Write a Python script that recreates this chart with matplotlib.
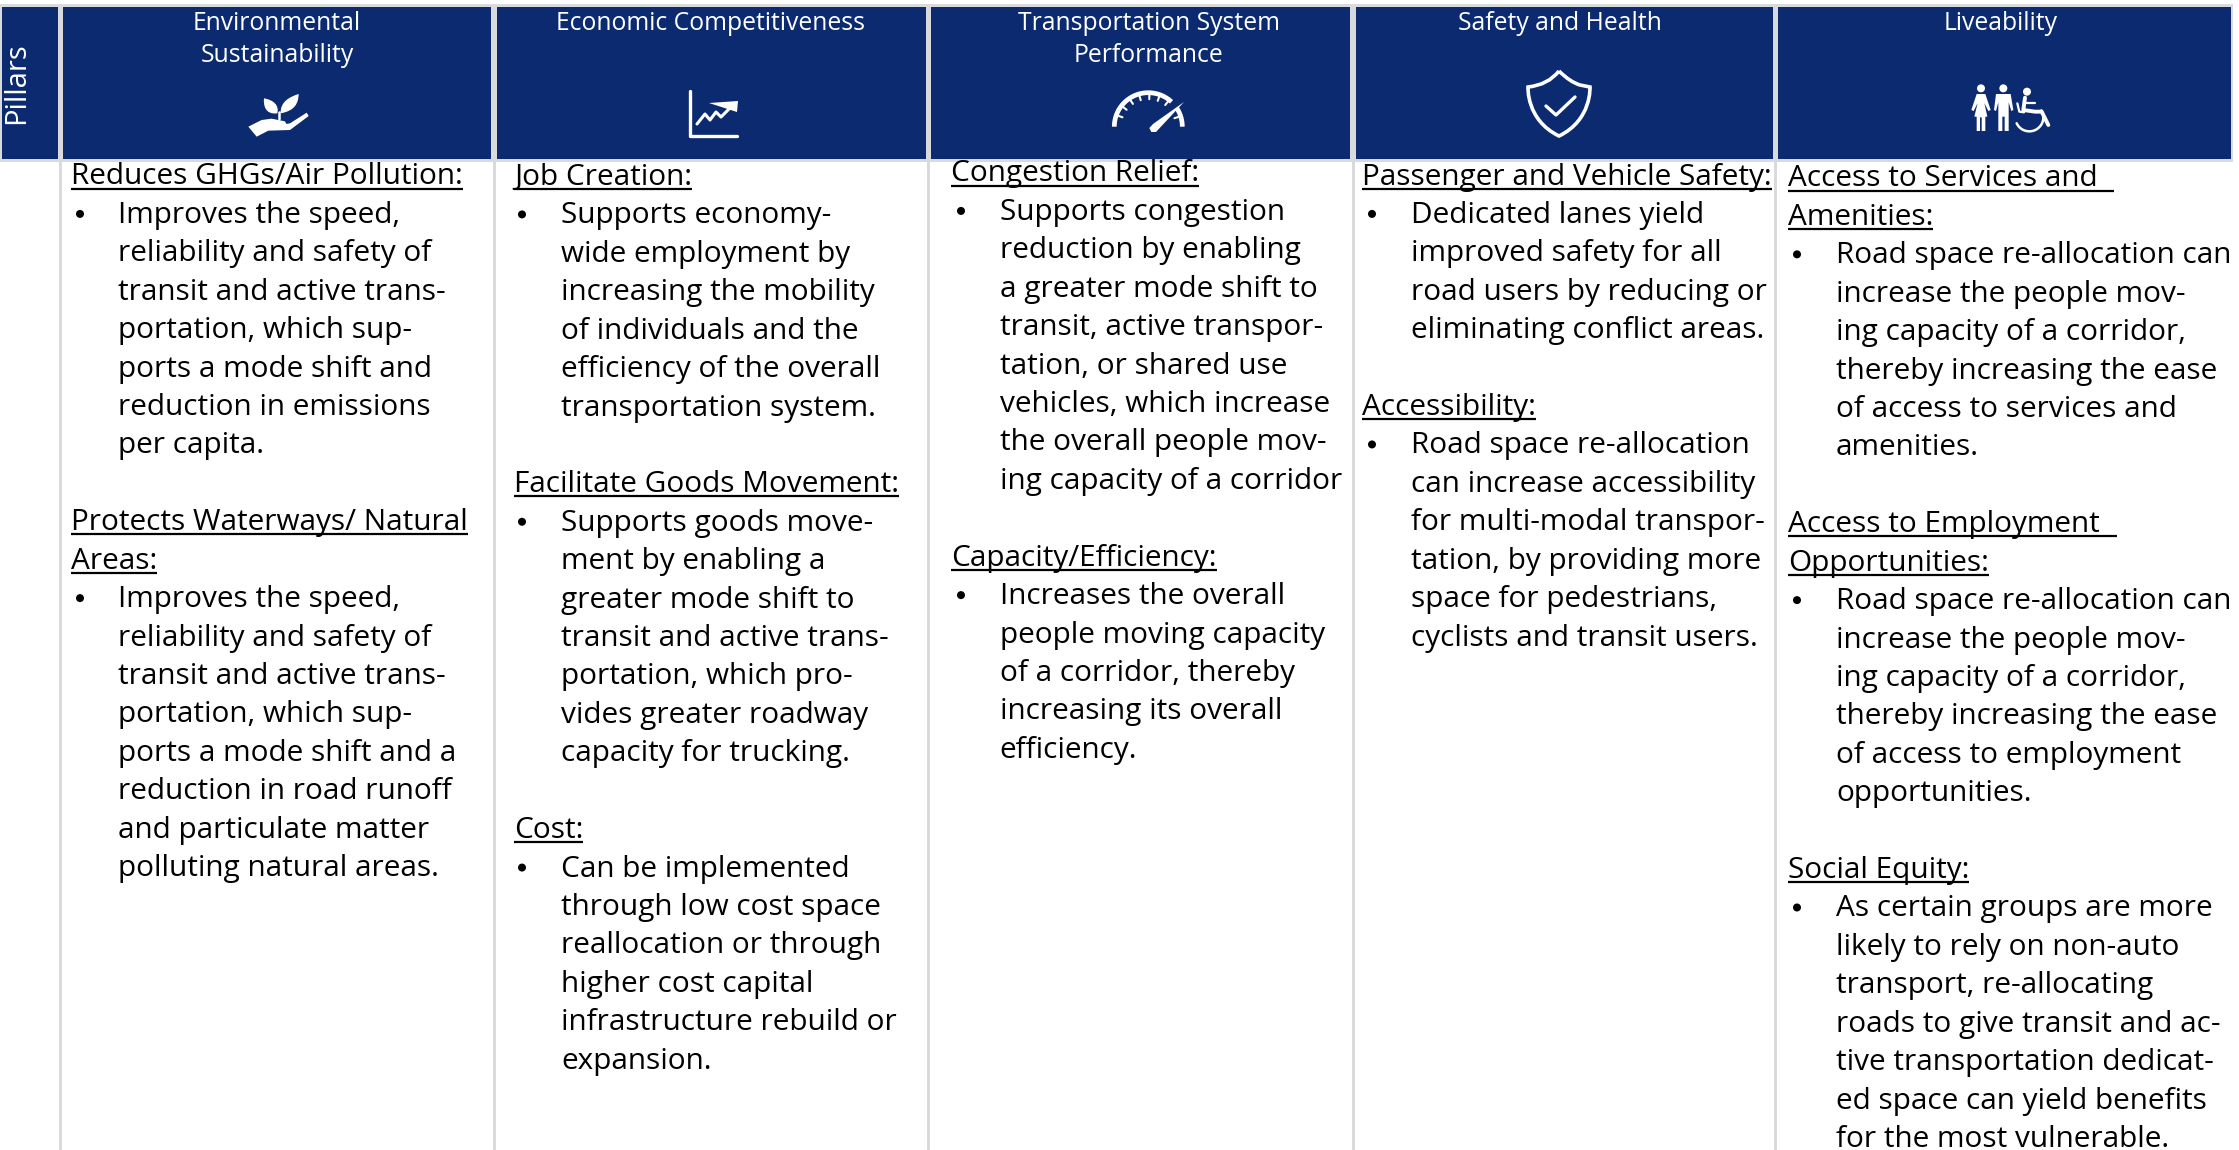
import matplotlib
matplotlib.use("Agg")
import matplotlib.pyplot as plt
from matplotlib.patches import Rectangle, Polygon, Circle, PathPatch
from matplotlib.path import Path
import numpy as np

W, H = 2239, 1150
NAVY = "#0B2A6F"
GRID = "#D8DADD"
FONT = "Open Sans"
BODY_PT = 21.4
HEAD_PT = 17.8
STEP = 38.42

pillar_label = "Pillars"
column_titles = [
    ["Environmental", "Sustainability"],
    ["Economic Competitiveness"],
    ["Transportation System", "Performance"],
    ["Safety and Health"],
    ["Liveability"],
]
# (line index, kind, text): kind h = underlined heading, b = first bullet line, t = continuation
col_env = [
    (0, "h", "Reduces GHGs/Air Pollution:"),
    (1, "b", "Improves the speed,"), (2, "t", "reliability and safety of"),
    (3, "t", "transit and active trans-"), (4, "t", "portation, which sup-"),
    (5, "t", "ports a mode shift and"), (6, "t", "reduction in emissions"),
    (7, "t", "per capita."),
    (9, "h", "Protects Waterways/ Natural"), (10, "h", "Areas:"),
    (11, "b", "Improves the speed,"), (12, "t", "reliability and safety of"),
    (13, "t", "transit and active trans-"), (14, "t", "portation, which sup-"),
    (15, "t", "ports a mode shift and a"), (16, "t", "reduction in road runoff"),
    (17, "t", "and particulate matter"), (18, "t", "polluting natural areas."),
]
col_econ = [
    (0, "h", "Job Creation:"),
    (1, "b", "Supports economy-"), (2, "t", "wide employment by"),
    (3, "t", "increasing the mobility"), (4, "t", "of individuals and the"),
    (5, "t", "efficiency of the overall"), (6, "t", "transportation system."),
    (8, "h", "Facilitate Goods Movement:"),
    (9, "b", "Supports goods move-"), (10, "t", "ment by enabling a"),
    (11, "t", "greater mode shift to"), (12, "t", "transit and active trans-"),
    (13, "t", "portation, which pro-"), (14, "t", "vides greater roadway"),
    (15, "t", "capacity for trucking."),
    (17, "h", "Cost:"),
    (18, "b", "Can be implemented"), (19, "t", "through low cost space"),
    (20, "t", "reallocation or through"), (21, "t", "higher cost capital"),
    (22, "t", "infrastructure rebuild or"), (23, "t", "expansion."),
]
col_trans = [
    (0, "h", "Congestion Relief:"),
    (1, "b", "Supports congestion"), (2, "t", "reduction by enabling"),
    (3, "t", "a greater mode shift to"), (4, "t", "transit, active transpor-"),
    (5, "t", "tation, or shared use"), (6, "t", "vehicles, which increase"),
    (7, "t", "the overall people mov-"), (8, "t", "ing capacity of a corridor"),
    (10, "h", "Capacity/Efficiency:"),
    (11, "b", "Increases the overall"), (12, "t", "people moving capacity"),
    (13, "t", "of a corridor, thereby"), (14, "t", "increasing its overall"),
    (15, "t", "efficiency."),
]
col_safety = [
    (0, "h", "Passenger and Vehicle Safety:"),
    (1, "b", "Dedicated lanes yield"), (2, "t", "improved safety for all"),
    (3, "t", "road users by reducing or"), (4, "t", "eliminating conflict areas."),
    (6, "h", "Accessibility:"),
    (7, "b", "Road space re-allocation"), (8, "t", "can increase accessibility"),
    (9, "t", "for multi-modal transpor-"), (10, "t", "tation, by providing more"),
    (11, "t", "space for pedestrians,"), (12, "t", "cyclists and transit users."),
]
col_live = [
    (0, "h", "Access to Services and "), (1, "h", "Amenities:"),
    (2, "b", "Road space re-allocation can"), (3, "t", "increase the people mov-"),
    (4, "t", "ing capacity of a corridor,"), (5, "t", "thereby increasing the ease"),
    (6, "t", "of access to services and"), (7, "t", "amenities."),
    (9, "h", "Access to Employment "), (10, "h", "Opportunities:"),
    (11, "b", "Road space re-allocation can"), (12, "t", "increase the people mov-"),
    (13, "t", "ing capacity of a corridor,"), (14, "t", "thereby increasing the ease"),
    (15, "t", "of access to employment"), (16, "t", "opportunities."),
    (18, "h", "Social Equity:"),
    (19, "b", "As certain groups are more"), (20, "t", "likely to rely on non-auto"),
    (21, "t", "transport, re-allocating"), (22, "t", "roads to give transit and ac-"),
    (23, "t", "tive transportation dedicat-"), (24, "t", "ed space can yield benefits"),
    (25, "t", "for the most vulnerable."),
]
columns = [col_env, col_econ, col_trans, col_safety, col_live]

col_left = [63, 497, 931, 1356, 1778]
col_right = [491, 926, 1350, 1773, 2231]
col_center = [277, 711, 1149, 1560, 2001]
head_x = [71, 514, 951, 1362, 1788]
bullet_x = [80, 522, 961, 1372, 1797]
text_x = [118, 561, 999.5, 1411, 1836]
first_base = [184.5, 185, 181.5, 184.5, 186.5]

fig = plt.figure(figsize=(W / 100, H / 100), dpi=100, facecolor="white")
ax = fig.add_axes([0, 0, 1, 1])
ax.set_xlim(0, W)
ax.set_ylim(H, 0)
ax.axis("off")

# frame
ax.add_patch(Rectangle((0, 4), W, 158, fc=GRID, ec="none", zorder=1))
ax.add_patch(Rectangle((W - 6, 4), 6, H, fc="white", ec="none", zorder=1))
ax.add_patch(Rectangle((2, 7), 56, 152, fc=NAVY, ec="none", zorder=2))
for l, r in zip(col_left, col_right):
    ax.add_patch(Rectangle((l, 7), r - l, 152, fc=NAVY, ec="none", zorder=2))
for l, r in zip(col_left, [58] + col_right[:-1]):
    ax.add_patch(Rectangle(((l + r) / 2 - 1.5, 160), 3, H - 160, fc=GRID, ec="none", zorder=1))

ax.text(17, 83, pillar_label, rotation=90, color="white", family=FONT, fontsize=21,
        ha="center", va="center", zorder=5)

# header titles
for title, cx in zip(column_titles, col_center):
    for i, line in enumerate(title):
        ax.text(cx, 29.5 + 32 * i, line, color="white", family=FONT, fontsize=HEAD_PT,
                ha="center", va="baseline", zorder=5)

# body text
fig.canvas.draw()
rend = fig.canvas.get_renderer()
for lines, hx, bx, tx, base in zip(columns, head_x, bullet_x, text_x, first_base):
    for idx, kind, s in lines:
        y = base + idx * STEP
        x = hx if kind == "h" else tx
        t = ax.text(x, y, s, color="black", family=FONT, fontsize=BODY_PT, ha="left",
                    va="baseline", zorder=5)
        if kind == "h":
            bb = t.get_window_extent(rend)
            ext = 9 if s.endswith(" ") else 0
            ax.plot([x, x + bb.width + ext], [y + 4, y + 4], color="black", lw=1.6,
                    solid_capstyle="butt", zorder=5)
        if kind == "b":
            ax.add_patch(Circle((bx, y - 9), 4, fc="black", ec="none", zorder=5))

WHITE = "white"


def poly(pts, ox=0, oy=0):
    """Icon polygon given in crop units of one third of a pixel."""
    xy = [(ox + a / 3, oy + b / 3) for a, b in pts]
    ax.add_patch(Polygon(xy, closed=True, fc=WHITE, ec="none", zorder=6))


def stroke(xs, ys, lw=2.5):
    ax.plot(xs, ys, color=WHITE, lw=lw, zorder=6, solid_capstyle="round", solid_joinstyle="round")


def blob(pts, ox, oy):
    xy = [(ox + a / 3, oy + b / 3) for a, b in pts]
    codes = [Path.MOVETO] + [Path.CURVE4] * (len(xy) - 1)
    ax.add_patch(PathPatch(Path(xy, codes), fc=WHITE, ec="none", zorder=6))


# plant in hand
poly([(25, 140), (65, 120), (95, 116), (135, 124), (140, 134), (112, 136), (150, 130), (200, 98),
      (206, 108), (150, 150), (85, 152), (50, 170)], 240, 80)
blob([(112, 100), (75, 105), (70, 75), (72, 55), (100, 60), (118, 75), (112, 100)], 240, 80)
blob([(122, 100), (120, 65), (150, 50), (176, 42), (175, 70), (165, 92), (122, 100)], 240, 80)
stroke([278.5, 278.5], [112, 119], lw=1.8)

# growth chart
stroke([690, 690, 737], [91, 136, 136], lw=2.4)
stroke([697, 705, 710, 716, 721, 732], [124, 114, 120, 112, 117, 106], lw=2.2)
poly([(2127, 309), (2214, 303), (2211, 336)])

# gauge
gx, gy, gr = 1148.3, 126.7, 34
for a0, a1 in [(180, 47), (33, 0)]:
    th = np.radians(np.linspace(a0, a1, 50))
    ax.plot(gx + gr * np.cos(th), gy - gr * np.sin(th), color=WHITE, lw=3.4, zorder=6,
            solid_capstyle="butt")
for a in np.radians([160, 142, 124, 106, 88, 70, 52, 18]):
    stroke([gx + 33 * np.cos(a), gx + 27.5 * np.cos(a)], [gy - 33 * np.sin(a), gy - 27.5 * np.sin(a)], lw=1.5)
poly([(3459, 372), (3448, 384), (3454, 396), (3468, 396), (3552, 306)], 0, 0)

# shield
shield = Path([(1559, 71), (1570, 82), (1580, 85), (1590, 87), (1590, 87), (1592, 120), (1559, 136),
               (1526, 120), (1528, 87), (1528, 87), (1548, 85), (1559, 71)],
              [Path.MOVETO, Path.CURVE3, Path.CURVE3, Path.LINETO, Path.CURVE4, Path.CURVE4, Path.CURVE4,
               Path.CURVE4, Path.CURVE4, Path.LINETO, Path.CURVE3, Path.CURVE3])
ax.add_patch(PathPatch(shield, fc="none", ec=WHITE, lw=2.6, zorder=6))
stroke([1546, 1556, 1575], [106, 115, 97], lw=2.4)

# people and wheelchair
px, py = 1960, 75
for a, b, r in [(63, 40, 4.0), (130, 40, 4.0), (201, 50, 4.0)]:
    ax.add_patch(Circle((px + a / 3, py + b / 3), r, fc=WHITE, ec="none", zorder=6))
poly([(50, 57), (76, 57), (92, 105), (85, 108), (73, 84), (82, 125), (76, 125), (76, 168), (65, 168),
      (65, 127), (60, 127), (60, 168), (50, 168), (50, 125), (43, 125), (53, 84), (41, 108), (34, 105)], px, py)
poly([(108, 57), (152, 57), (160, 105), (154, 108), (146, 82), (146, 168), (134, 168), (134, 125),
      (127, 125), (127, 168), (115, 168), (115, 82), (108, 108), (102, 105)], px, py)
vx = np.array([195, 190, 225, 245, 265])
vy = np.array([68, 105, 110, 110, 150])
stroke(px + vx / 3, py + vy / 3, lw=2.8)
stroke([px + 192 / 3, px + 226 / 3], [py + 85 / 3, py + 85 / 3], lw=1.6)
stroke([px + 172 / 3, px + 178 / 3, px + 192 / 3], [py + 85 / 3, py + 110 / 3, py + 112 / 3], lw=1.6)
th2 = np.radians(np.linspace(205, 390, 50))
stroke(px + 208 / 3 + 14 * np.cos(th2), py + 127 / 3 - 14 * np.sin(th2), lw=1.8)

fig.savefig("out.png", dpi=100, facecolor="white")
